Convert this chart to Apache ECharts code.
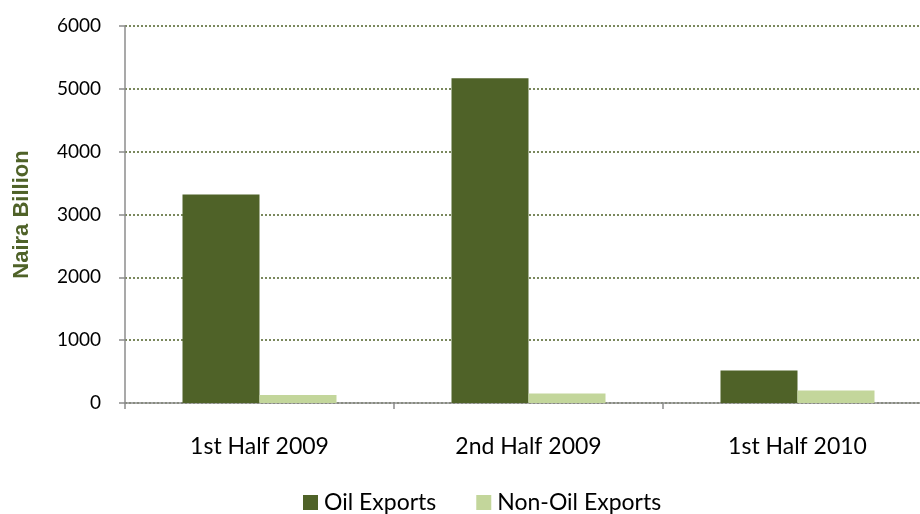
<!DOCTYPE html>
<html>
<head>
<meta charset="utf-8">
<script src="https://cdn.jsdelivr.net/npm/echarts@6/dist/echarts.min.js"></script>
<style>
  html, body { margin: 0; padding: 0; background: #ffffff; }
  #chart { width: 920px; height: 514px; }
</style>
</head>
<body>
<div id="chart"></div>
<script>
// Export values by half-year period, in Naira billion
const periods = ['1st Half 2009', '2nd Half 2009', '1st Half 2010'];
const oilExports = [3320, 5170, 516];
const nonOilExports = [127, 150, 197];
const yTicks = { min: 0, max: 6000, interval: 1000 };

const FONT = 'Lato';
const chart = echarts.init(document.getElementById('chart'), null, { renderer: 'canvas' });

chart.setOption({
  backgroundColor: '#ffffff',
  animation: false,
  textStyle: { fontFamily: FONT },
  // the plot runs a little past the right edge of the canvas
  grid: { left: 125, top: 26, width: 807, height: 377, containLabel: false, outerBoundsMode: 'none' },
  legend: {
    top: 486,
    left: 298,
    itemWidth: 15,
    itemHeight: 15,
    itemGap: 40,
    icon: 'rect',
    textStyle: { fontFamily: FONT, fontSize: 23, color: '#000000', padding: [0, 0, 0, 1] },
    data: ['Oil Exports', 'Non-Oil Exports']
  },
  xAxis: {
    type: 'category',
    data: periods,
    axisLine: { lineStyle: { color: '#8c8c8c', width: 1.5 } },
    axisTick: { show: true, length: 6, lineStyle: { color: '#8c8c8c', width: 1.5 } },
    axisLabel: { fontFamily: FONT, fontSize: 23, color: '#000000', margin: 32 },
    splitLine: { show: false }
  },
  yAxis: {
    type: 'value',
    min: yTicks.min,
    max: yTicks.max,
    interval: yTicks.interval,
    name: 'Naira Billion',
    nameLocation: 'middle',
    nameGap: 92,
    nameTextStyle: { fontFamily: 'Liberation Sans', fontWeight: 'bold', fontSize: 22, color: '#4f6228' },
    axisLine: { show: true, lineStyle: { color: '#8c8c8c', width: 1.5 } },
    axisTick: { show: true, length: 6, lineStyle: { color: '#8c8c8c', width: 1.5 } },
    axisLabel: {
      fontFamily: FONT, fontSize: 19, color: '#000000', margin: 24,
      formatter: v => String(v)
    },
    splitLine: { show: true, lineStyle: { color: '#4f6228', type: [2, 2], width: 1.5 } }
  },
  series: [
    {
      name: 'Oil Exports',
      type: 'bar',
      data: oilExports,
      barWidth: 77,
      barGap: '0%',
      itemStyle: { color: '#4f6228' }
    },
    {
      name: 'Non-Oil Exports',
      type: 'bar',
      data: nonOilExports,
      barWidth: 77,
      barGap: '0%',
      itemStyle: { color: '#c3d69b' }
    }
  ]
});
</script>
</body>
</html>
